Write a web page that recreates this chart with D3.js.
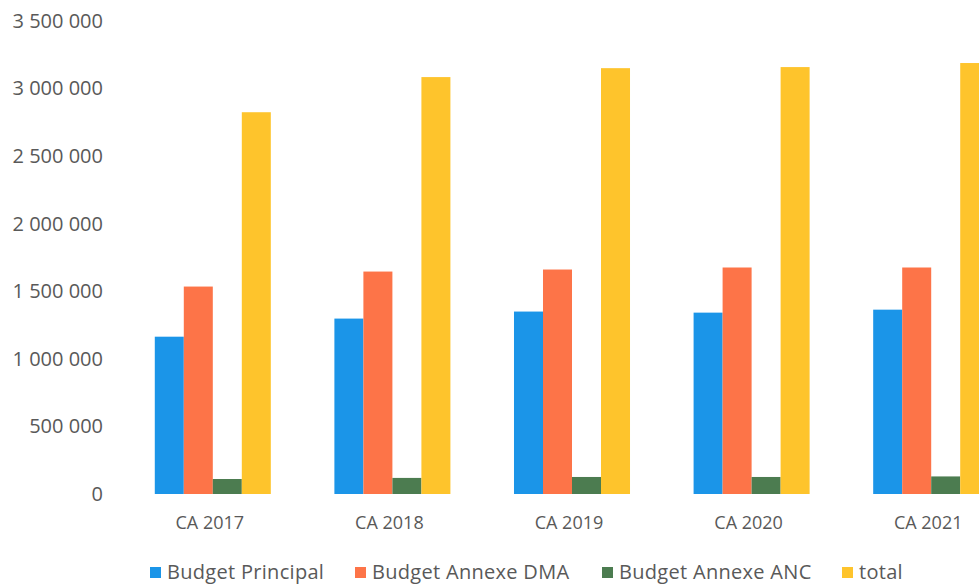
<!DOCTYPE html>
<html>
<head>
<meta charset="utf-8">
<script src="https://cdn.jsdelivr.net/npm/d3@7"></script>
<style>
  html, body { margin: 0; padding: 0; background: #fff; overflow: hidden; }
  svg { display: block; }
  text { font-family: "Open Sans", "Noto Sans", sans-serif; fill: #595959; }
</style>
</head>
<body>
<svg id="chart" width="979" height="584"></svg>
<script>
const categories = ["CA 2017", "CA 2018", "CA 2019", "CA 2020", "CA 2021"];
const seriesNames = ["Budget Principal", "Budget Annexe DMA", "Budget Annexe ANC", "total"];
const budgetPrincipal = [1164000, 1298000, 1350000, 1342000, 1364000];
const budgetAnnexeDMA = [1535000, 1646000, 1661000, 1676000, 1676000];
const budgetAnnexeANC = [111000, 119000, 126000, 126000, 130000];
const total = [2825000, 3085000, 3151000, 3159000, 3189000];
const yTicks = [0, 500000, 1000000, 1500000, 2000000, 2500000, 3000000, 3500000];
const colors = ["#1b95e8", "#fd7448", "#4c7c50", "#fec42c"];

const seriesValues = [budgetPrincipal, budgetAnnexeDMA, budgetAnnexeANC, total];

const svg = d3.select("#chart");
const x0 = d3.scaleBand().domain(categories).range([123, 1021])
  .paddingInner(0.354).paddingOuter(0.177);
const x1 = d3.scaleBand().domain(seriesNames).range([0, x0.bandwidth()]).padding(0);
const y = d3.scaleLinear().domain([0, 3500000]).range([494, 21]);

const fmt = d3.formatLocale({ decimal: ",", thousands: "\u00a0", grouping: [3], currency: ["", "€"] }).format(",d");

// Y axis
const yAxis = svg.append("g")
  .attr("transform", "translate(103,0)")
  .call(d3.axisLeft(y).tickValues(yTicks).tickSize(0).tickPadding(0).tickFormat(fmt));
yAxis.select(".domain").remove();
yAxis.selectAll("text").style("font-size", "20px").style("font-family", "Open Sans").attr("fill", "#595959");

// Bars
const groups = svg.append("g").selectAll("g")
  .data(categories)
  .join("g")
  .attr("transform", d => `translate(${x0(d)},0)`);

groups.selectAll("rect")
  .data((c, i) => seriesNames.map((s, j) => ({ s, v: seriesValues[j][i], j })))
  .join("rect")
  .attr("x", d => x1(d.s))
  .attr("width", x1.bandwidth())
  .attr("y", d => y(d.v))
  .attr("height", d => y(0) - y(d.v))
  .attr("fill", d => colors[d.j]);

// X axis labels
const xAxis = svg.append("g")
  .attr("transform", "translate(-3,494)")
  .call(d3.axisBottom(x0).tickSize(0).tickPadding(22));
xAxis.select(".domain").remove();
xAxis.selectAll("text").style("font-size", "18px").style("font-family", "Open Sans").attr("fill", "#595959");

// Legend
const legendX = [150, 355, 602, 842];
const legend = svg.append("g").selectAll("g")
  .data(seriesNames)
  .join("g")
  .attr("transform", (d, i) => `translate(${legendX[i]},567)`);
legend.append("rect").attr("width", 11).attr("height", 11).attr("fill", (d, i) => colors[i]);
legend.append("text").attr("x", 17).attr("y", 12)
  .style("font-size", "20px").style("letter-spacing", "0.3px").text(d => d);
</script>
</body>
</html>
